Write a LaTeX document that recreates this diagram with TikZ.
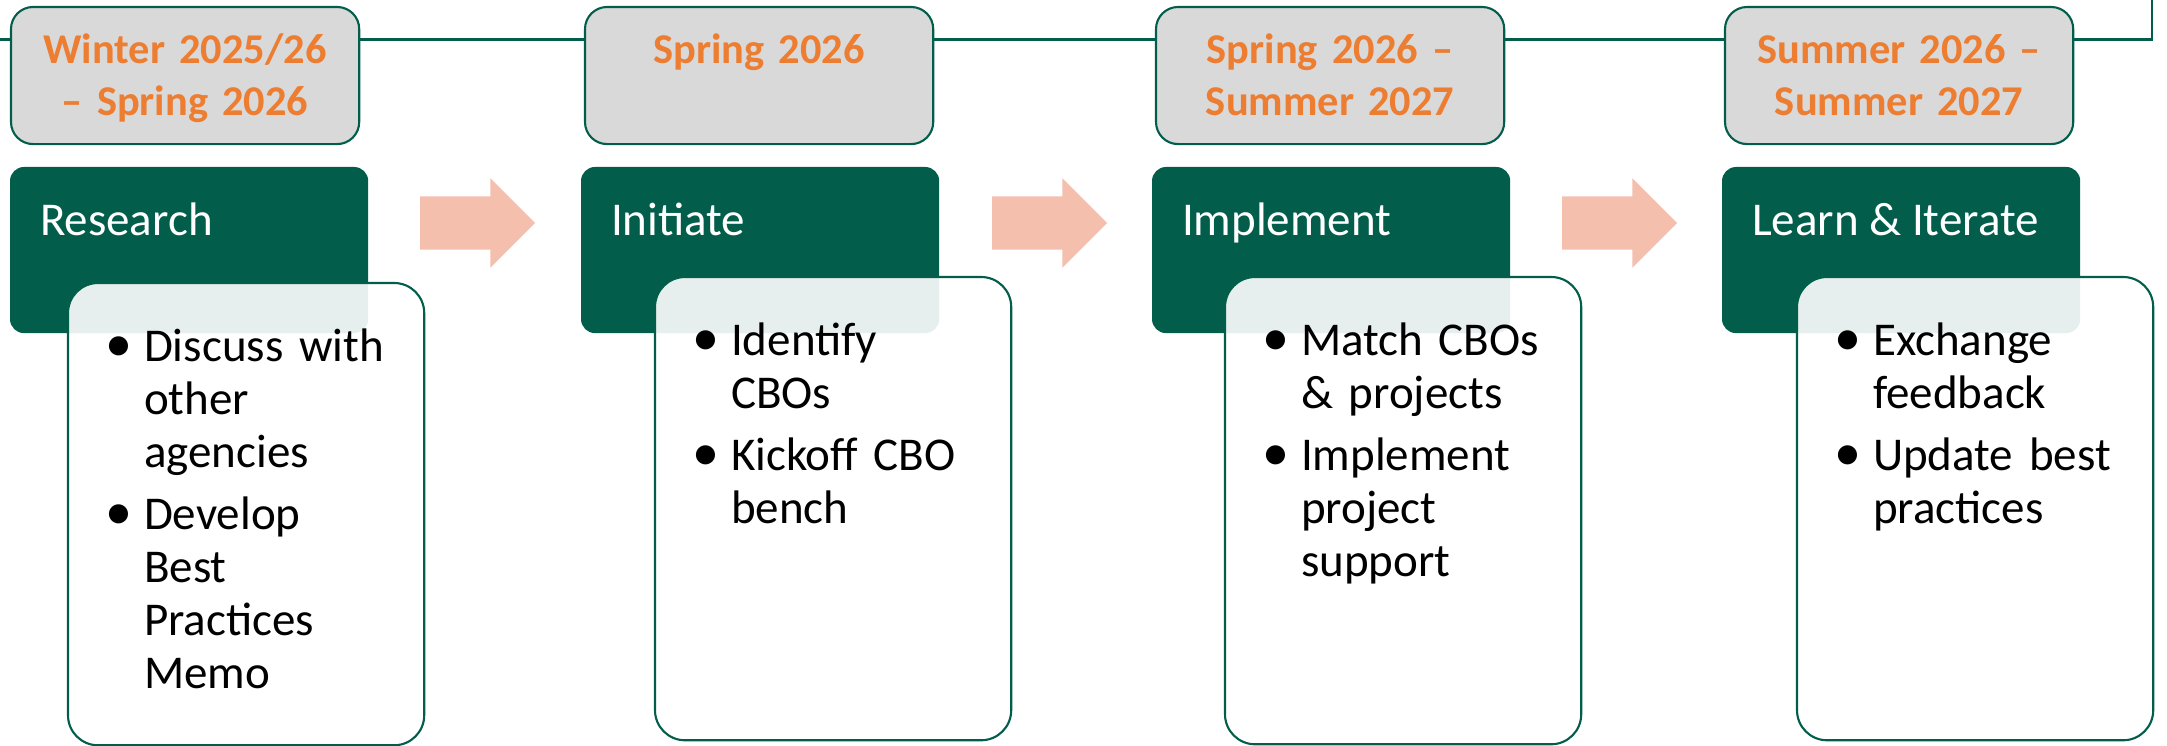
\documentclass[tikz,border=0pt]{standalone}
\usepackage{fontspec}
\usepackage{graphicx}
\setmainfont{Carlito}
\usetikzlibrary{positioning,shapes.arrows}

\definecolor{pine}{HTML}{025E4B}
\definecolor{slate}{HTML}{D9D9D9}
\definecolor{amber}{HTML}{ED7D31}
\definecolor{salmon}{HTML}{F4BFAD}

% one bullet of a task list
\newcommand{\bitem}[1]{\hangindent=0.39cm\hangafter=1\noindent%
  \makebox[0.39cm][l]{\raisebox{-0.2pt}{\scalebox{1.15}{\textbullet}}}#1\par\vspace{0.09cm}}

\tikzset{
	x=0.01cm, y=-0.01cm, % pixel grid of the slide
	every node/.style={inner sep=0pt, outer sep=0pt},
	datebox/.style={draw=pine, fill=slate, line width=0.6pt, rounded corners=0.22cm,
		minimum width=3.48cm, minimum height=1.37cm, anchor=north west},
	datetext/.style={text=amber, font=\fontsize{12.06pt}{14.8pt}\selectfont\bfseries,
		text width=3.4cm, align=center, anchor=base},
	stagebox/.style={fill=pine, rounded corners=0.14cm,
		minimum width=3.58cm, minimum height=1.66cm, anchor=north west},
	stagetext/.style={text=white, font=\fontsize{13.37pt}{15.08pt}\selectfont, anchor=base west},
	taskbox/.style={draw=pine, fill=white, fill opacity=0.9, line width=0.6pt,
		rounded corners=0.3cm, minimum width=3.56cm, anchor=north west},
	tasktext/.style={font=\fontsize{13.37pt}{15.08pt}\selectfont,
		text width=3.1cm, align=left, anchor=base west},
	flow/.style={single arrow, fill=salmon, single arrow head extend=0.18cm,
		single arrow tip angle=90, minimum height=1.15cm, inner xsep=0pt, inner ysep=0.26cm,
		anchor=tail},
}

\begin{document}
\begin{tikzpicture}
  \useasboundingbox (0,0) rectangle (2167,746);

  % timeline
  \coordinate (tl0) at (0,39.5);
  \coordinate (tl1) at (2152,39.5);
  \coordinate (tl2) at (2152,0);
  \draw[pine, line width=0.6pt] (tl0) -- (tl1) -- (tl2);

  % dates
  \node[datebox] (date1) at (11,7) {};
  \node[datebox] (date2) at (585,7) {};
  \node[datebox] (date3) at (1156,7) {};
  \node[datebox] (date4) at (1725,7) {};
  \node[datetext, yshift=-0.56cm] (when1) at (date1.north) {Winter 2025/26\\– Spring 2026};
  \node[datetext, yshift=-0.56cm] (when2) at (date2.north) {Spring 2026};
  \node[datetext, yshift=-0.56cm] (when3) at (date3.north) {Spring 2026 –\\Summer 2027};
  \node[datetext, yshift=-0.56cm] (when4) at (date4.north) {Summer 2026 –\\Summer 2027};

  % stages
  \node[stagebox] (stage1) at (10,167) {};
  \node[stagebox] (stage2) at (581,167) {};
  \node[stagebox] (stage3) at (1152,167) {};
  \node[stagebox] (stage4) at (1722,167) {};
  \node[stagetext, xshift=0.30cm, yshift=-0.68cm] (head1) at (stage1.north west) {Research};
  \node[stagetext, xshift=0.30cm, yshift=-0.68cm] (head2) at (stage2.north west) {Initiate};
  \node[stagetext, xshift=0.30cm, yshift=-0.68cm] (head3) at (stage3.north west) {Implement};
  \node[stagetext, xshift=0.30cm, yshift=-0.68cm] (head4) at (stage4.north west) {Learn \& Iterate};

  % arrows between stages
  \node[flow] (arr1) at (420,223) {};
  \node[flow] (arr2) at (992,223) {};
  \node[flow] (arr3) at (1562,223) {};

  % task boxes
  \node[taskbox, minimum height=4.62cm] (task1) at (68,283) {};
  \node[taskbox, minimum height=4.63cm] (task2) at (655,277) {};
  \node[taskbox, minimum height=4.67cm] (task3) at (1225,277) {};
  \node[taskbox, minimum height=4.63cm] (task4) at (1797,277) {};
  \node[tasktext, xshift=0.37cm, yshift=-0.78cm] (list1) at (task1.north west)
    {\bitem{Discuss with\newline other\newline agencies}\bitem{Develop\newline Best\newline Practices\newline Memo}};
  \node[tasktext, xshift=0.37cm, yshift=-0.78cm] (list2) at (task2.north west)
    {\bitem{Identify\newline CBOs}\bitem{Kickoff CBO\newline bench}};
  \node[tasktext, xshift=0.37cm, yshift=-0.78cm] (list3) at (task3.north west)
    {\bitem{Match CBOs\newline \& projects}\bitem{Implement\newline project\newline support}};
  \node[tasktext, xshift=0.37cm, yshift=-0.78cm] (list4) at (task4.north west)
    {\bitem{Exchange\newline feedback}\bitem{Update best\newline practices}};
\end{tikzpicture}
\end{document}
